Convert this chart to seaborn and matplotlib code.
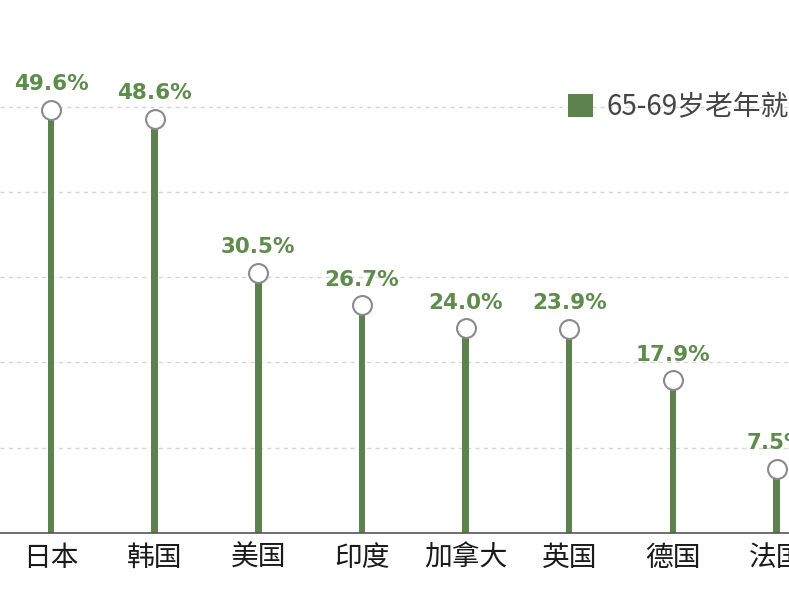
import matplotlib
matplotlib.use('Agg')
import matplotlib.pyplot as plt
import pandas as pd
import seaborn as sns

countries = ['日本', '韩国', '美国', '印度', '加拿大', '英国', '德国', '法国']
rates = [49.6, 48.6, 30.5, 26.7, 24.0, 23.9, 17.9, 7.5]
series_name = '65-69岁老年就业率'
grid_values = [10, 20, 30, 40, 50]

green = '#5a8a47'
label_green = '#5e8c4d'

sns.set_style('white')
plt.rcParams['font.family'] = ['Noto Sans CJK SC', 'DejaVu Sans']

df = pd.DataFrame({'country': countries, 'rate': rates, 'series': series_name})

fig = plt.figure(figsize=(7.89, 5.92), dpi=100)
ax = fig.add_axes([0, 59 / 592, 1, 533 / 592])

for g in grid_values:
    ax.axhline(g, color='#d6d6d6', lw=1, ls=(0, (3, 3)), zorder=0)

# stems as very thin bars
sns.barplot(data=df, x='country', y='rate', hue='series', palette=[green],
            width=0.062, linewidth=0, ax=ax, zorder=2)

# hollow circles at the tips
sns.scatterplot(data=df, x='country', y='rate', s=185, color='white',
                edgecolor='#8a8a8a', linewidth=1.5, ax=ax, zorder=3, legend=False)

for i, v in enumerate(rates):
    ax.annotate(f'{v:.1f}%', (i, v), xytext=(0, 18.5), textcoords='offset points',
                ha='center', va='center', fontsize=15.5, fontweight='bold',
                color=label_green, family='DejaVu Sans', zorder=4)

ax.set_xlim(-0.492, 7.12)
ax.set_ylim(0, 62.5)
ax.set_xlabel('')
ax.set_ylabel('')
ax.set_yticks([])
ax.tick_params(axis='x', length=0, pad=7, labelsize=20, labelcolor='#1a1a1a')

for side in ['top', 'left', 'right']:
    ax.spines[side].set_visible(False)
ax.spines['bottom'].set_color('#555555')
ax.spines['bottom'].set_linewidth(1.2)

leg = ax.legend(loc='center left', bbox_to_anchor=(568 / 789, (592 - 107) / 592),
                bbox_transform=fig.transFigure, frameon=False, fontsize=20,
                handlelength=0.9, handleheight=0.9, handletextpad=0.5,
                borderpad=0, borderaxespad=0)
for t in leg.get_texts():
    t.set_color('#444444')

plt.savefig('out.png', dpi=100)
